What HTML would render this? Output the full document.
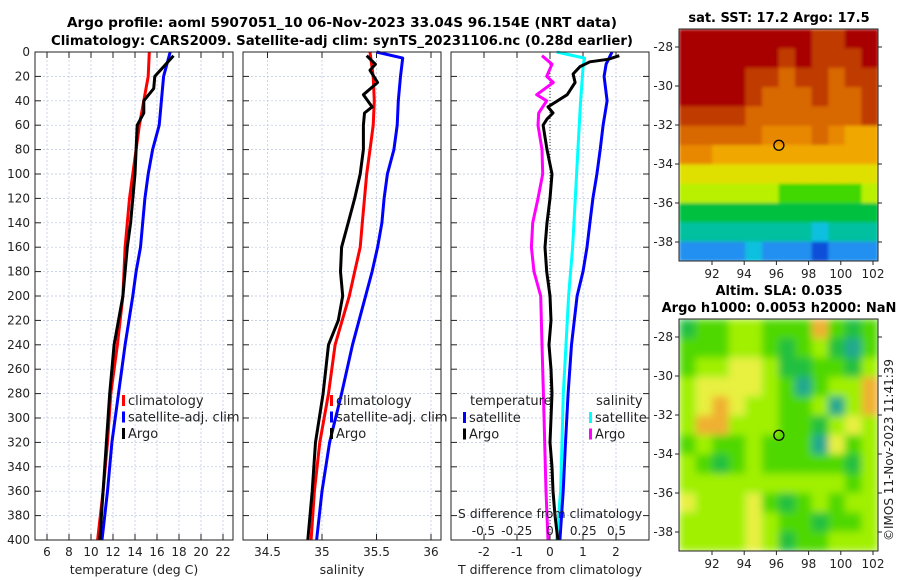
<!DOCTYPE html>
<html><head><meta charset="utf-8"><style>
body{margin:0;background:#fff;}
svg{display:block;font-family:"DejaVu Sans","Liberation Sans",sans-serif;}
</style></head><body>
<svg id="c" width="900" height="580" xmlns="http://www.w3.org/2000/svg">
<defs>
<filter id="blur" x="0" y="0" width="1" height="1"><feGaussianBlur stdDeviation="4"/></filter>
<filter id="blur2" x="0" y="0" width="1" height="1"><feGaussianBlur stdDeviation="1.5"/></filter>
<clipPath id="clipA"><rect x="679" y="29" width="199" height="232"/></clipPath>
<clipPath id="clipB"><rect x="679" y="319" width="199" height="232"/></clipPath>
</defs>
<text x="342" y="27" text-anchor="middle" font-weight="bold" font-size="13.5" textLength="550" lengthAdjust="spacingAndGlyphs">Argo profile: aoml 5907051_10 06-Nov-2023 33.04S 96.154E (NRT data)</text>
<text x="342" y="45" text-anchor="middle" font-weight="bold" font-size="13.5" textLength="582" lengthAdjust="spacingAndGlyphs">Climatology: CARS2009. Satellite-adj clim: synTS_20231106.nc (0.28d earlier)</text>
<text x="779" y="22" text-anchor="middle" font-weight="bold" font-size="13">sat. SST: 17.2 Argo: 17.5</text>
<text x="779" y="295" text-anchor="middle" font-weight="bold" font-size="13">Altim. SLA: 0.035</text>
<text x="779" y="312" text-anchor="middle" font-weight="bold" font-size="13">Argo h1000: 0.0053 h2000: NaN</text>
<text transform="translate(893,541) rotate(-90)" font-size="12" fill="#222">©IMOS 11-Nov-2023 11:41:39</text>
</svg>
<script>
const depths=[0,20,40,60,80,100,120,140,160,180,200,240,280,320,360,400];
const climT=[15.3,15.2,14.8,14.4,14.1,13.8,13.5,13.3,13.1,13.0,12.9,12.4,11.8,11.5,11.1,10.6];
const satT=[17.2,16.6,16.4,16.2,15.6,15.2,14.9,14.7,14.5,14.1,13.8,13.1,12.5,11.9,11.5,11.0];
const argoTDepth=[3,10,20,30,40,50,60,100,140,160,200,220,240,280,320,360,400];
const argoT=[17.5,16.8,15.8,15.7,14.8,14.8,14.2,14.0,13.6,13.3,12.9,12.5,12.1,11.7,11.4,11.1,10.8];
const climS=[35.44,35.47,35.48,35.47,35.44,35.41,35.39,35.37,35.35,35.30,35.25,35.12,35.06,34.98,34.93,34.90];
const satSDepth=[0,5,20,40,60,80,100,120,140,160,180,200,240,280,320,360,400];
const satS=[35.50,35.74,35.72,35.70,35.69,35.66,35.60,35.57,35.55,35.51,35.46,35.40,35.28,35.18,35.07,35.00,34.95];
const argoSDepth=[3,10,15,25,35,45,50,60,80,100,120,140,160,180,190,200,220,240,280,320,360,400];
const argoS=[35.41,35.49,35.44,35.51,35.38,35.46,35.39,35.38,35.38,35.35,35.30,35.24,35.18,35.17,35.18,35.19,35.15,35.06,35.01,34.94,34.91,34.87];
const diffDepthA=[0,10,20,40,60,80,100,120,140,160,180,200,240,280,320,360,400];
const dTsat=[1.88,1.70,1.64,1.73,1.61,1.52,1.42,1.30,1.21,1.12,1.00,0.82,0.65,0.55,0.47,0.40,0.30];
const dSsatDepth=[0,5,10,40,80,120,160,200,240,280,320,360,400];
const dSsat=[0.05,0.26,0.25,0.23,0.21,0.19,0.17,0.14,0.12,0.10,0.09,0.08,0.05];
const dTargoDepth=[3,6,8,12,18,25,35,45,50,55,60,80,100,120,140,160,180,200,220,240,260,280,300,320,340,360,380,400];
const dTargo=[2.1,1.76,1.21,0.91,0.70,0.76,0.52,-0.06,0.09,-0.09,-0.21,-0.09,0.06,0,-0.09,-0.15,-0.10,0.0,0.03,-0.03,0.03,0.06,0.03,0,0.06,0.09,0.15,0.24];
const dSargoDepth=[3,10,20,25,35,40,50,60,80,100,120,140,160,180,200,240,280,320,360,400];
const dSargo=[-0.06,0.015,-0.025,0.025,-0.10,-0.025,-0.085,-0.09,-0.06,-0.055,-0.09,-0.13,-0.14,-0.12,-0.07,-0.06,-0.05,-0.04,-0.03,-0.015];
const depthTicks=[0,20,40,60,80,100,120,140,160,180,200,220,240,260,280,300,320,340,360,380,400];
const tTicks=[6,8,10,12,14,16,18,20,22];
const sTicks=[34.5,35,35.5,36];
const dTTicks=[-2,-1,0,1,2];
const dSTicks=[-0.5,-0.25,0,0.25,0.5];
const dSTickLabels=["-0.5","-0.25","0","0.25","0.5"];
const lonTicks=[92,94,96,98,100,102];
const latTicks=[-28,-30,-32,-34,-36,-38];
const sstGrid=[
[0,0,0,0,0,0,0,0,1,1,0,0],[0,0,0,0,0,0,1,0,1,1,1,0],[0,0,0,0,1,1,2,1,1,2,1,1],[0,0,0,0,1,2,2,2,1,2,2,1],
[1,1,1,1,2,2,2,2,2,2,2,1],[2,2,2,2,2,3,3,3,2,3,4,4],[3,3,4,4,4,4,4,4,4,4,4,4],[5,5,5,5,5,5,5,5,5,5,5,5],
[6,6,6,6,6,6,7,7,7,7,7,6],[8,8,8,8,8,8,8,8,8,8,8,8],[9,9,9,9,9,9,9,9,10,9,9,9],[11,11,11,11,10,11,11,11,12,11,11,11]];
const slaGrid=[
[1,2,2,3,3,2,2,2,5,2,1,2],[2,2,2,3,3,2,1,2,3,1,0,2],[2,3,3,4,4,3,1,1,2,2,1,3],[3,4,4,4,4,3,2,0,2,3,3,5],
[3,4,5,4,3,3,2,2,3,0,3,5],[3,5,5,3,3,3,2,2,1,3,4,3],[2,3,2,2,3,2,2,2,0,4,2,3],[3,2,1,2,3,2,2,2,2,2,1,3],
[3,3,3,3,3,3,3,3,3,3,2,3],[4,3,3,3,4,2,1,2,3,2,3,3],[3,3,3,3,4,3,2,2,1,2,2,3],[3,3,3,3,4,3,1,2,2,3,3,3]];
const argoLon=96.154, argoLat=-33.04;

const NS="http://www.w3.org/2000/svg";
const svg=document.getElementById('c');
function mk(tag,attrs,parent){const e=document.createElementNS(NS,tag);for(const k in attrs)e.setAttribute(k,attrs[k]);(parent||svg).appendChild(e);return e;}
const Y0=52,Y1=540;
const yD=d=>Y0+d*(Y1-Y0)/400;
const panels=[
 {x0:35,x1:233,f:v=>47+(v-6)*11,ticks:tTicks,labels:tTicks.map(String),lab:"temperature (deg C)",name:"temperature"},
 {x0:243,x1:441,f:v=>322+(v-35)*109,ticks:sTicks,labels:sTicks.map(String),lab:"salinity",name:"salinity"},
 {x0:451,x1:649,f:v=>550+v*33,ticks:dTTicks,labels:dTTicks.map(String),lab:"T difference from climatology",name:"difference"}];
panels.forEach((p,pi)=>{
 const g=mk('g',{});
 
 
 depthTicks.forEach(d=>{const y=yD(d);
  mk('line',{x1:p.x0,x2:p.x1,y1:y,y2:y,stroke:'#b8c4e0','stroke-width':0.7,'stroke-dasharray':'2,2'},g);
  mk('line',{x1:p.x0,x2:p.x0+6,y1:y,y2:y,stroke:'#222'},g);
  mk('line',{x1:p.x1-6,x2:p.x1,y1:y,y2:y,stroke:'#222'},g);
  if(pi==0){const t=mk('text',{x:30,y:y+4,'text-anchor':'end','font-size':12,fill:'#222'},g);t.textContent=d;}
 });
 p.ticks.forEach((v,i)=>{const x=p.f(v);
  mk('line',{x1:x,x2:x,y1:Y0,y2:Y1,stroke:'#b8c4e0','stroke-width':0.7,'stroke-dasharray':'2,2'},g);
  mk('line',{x1:x,x2:x,y1:Y1-6,y2:Y1,stroke:'#222'},g);
  mk('line',{x1:x,x2:x,y1:Y0,y2:Y0+6,stroke:'#222'},g);
  const t=mk('text',{x:x,y:556,'text-anchor':'middle','font-size':12,fill:'#222'},g);t.textContent=p.labels[i];
 });
 const xl=mk('text',{x:(p.x0+p.x1)/2,y:574,'text-anchor':'middle','font-size':12.5,fill:'#222'},g);xl.textContent=p.lab;
 p.g=g;
});
function line(g,xs,ds,f,color,name,w){
 const pts=xs.map((v,i)=>f(v).toFixed(1)+','+yD(ds[i]).toFixed(1)).join(' ');
 const e=mk('polyline',{points:pts,fill:'none',stroke:color,'stroke-width':w||3,'stroke-linejoin':'round'},g);
 
 
}
const P=panels;
line(P[0].g,climT,depths,P[0].f,'#f00','clim-temperature-line');
line(P[0].g,satT,depths,P[0].f,'#00f','sat-temperature-line');
line(P[0].g,argoT,argoTDepth,P[0].f,'#000','argo-temperature-line');
line(P[1].g,climS,depths,P[1].f,'#f00','clim-salinity-line');
line(P[1].g,satS,satSDepth,P[1].f,'#00f','sat-salinity-line');
line(P[1].g,argoS,argoSDepth,P[1].f,'#000','argo-salinity-line');
const fS=v=>550+v*133;
mk('line',{x1:550,x2:550,y1:Y0,y2:Y1,stroke:'#333','stroke-dasharray':'1,2','stroke-width':1},P[2].g);
line(P[2].g,dSargo,dSargoDepth,fS,'#f0f','argo-salinity-diff-line');
line(P[2].g,dSsat,dSsatDepth,fS,'#0ff','sat-salinity-diff-line');
line(P[2].g,dTsat,diffDepthA,P[2].f,'#00f','sat-temperature-diff-line');
line(P[2].g,dTargo,dTargoDepth,P[2].f,'#000','argo-temperature-diff-line');
{const t=mk('text',{x:550,y:518,'text-anchor':'middle','font-size':12.5,fill:'#222'},P[2].g);t.textContent="S difference from climatology";
 
 
 dSTicks.forEach((v,i)=>{const t=mk('text',{x:fS(v),y:535,'text-anchor':'middle','font-size':12,fill:'#222'},P[2].g);t.textContent=dSTickLabels[i];});}
panels.forEach(p=>mk('rect',{x:p.x0,y:Y0,width:p.x1-p.x0,height:Y1-Y0,fill:'none',stroke:'#222','stroke-width':1},p.g));
function legend(g,x,y,items){items.forEach((it,i)=>{
 const yy=y+i*16.5;
 mk('rect',{x:x,y:yy-10,width:3,height:11,fill:it[1]},g);
 const t=mk('text',{x:x+6,y:yy,'font-size':13,fill:'#222'},g);t.textContent=it[0];
 
 
});}
legend(P[0].g,122,405,[["climatology","#f00"],["satellite-adj. clim","#00f"],["Argo","#000"]]);
legend(P[1].g,330,405,[["climatology","#f00"],["satellite-adj. clim","#00f"],["Argo","#000"]]);
{const t=mk('text',{x:470,y:405,'font-size':13,fill:'#222'},P[2].g);t.textContent="temperature";
 const t2=mk('text',{x:596,y:405,'font-size':13,fill:'#222'},P[2].g);t2.textContent="salinity";}
legend(P[2].g,463,422,[["satellite","#00f"],["Argo","#000"]]);
legend(P[2].g,589,422,[["satellite","#0ff"],["Argo","#f0f"]]);
const sstColors=['#a80000','#c03a00','#d86800','#e88800','#f0a800','#e0e000','#b8f000','#40d800','#00c040','#00c0a0','#10c0e0','#2090f0','#1050d8'];
const slaColors=['#20a890','#20c040','#50d800','#a0f000','#e8f040','#f0b030'];
function map(top,bot,grid,colors,name,filt,clip){
 const g=mk('g',{});
 
 
 const x0=679,x1=878;
 const lonX=l=>712+(l-92)*16.1;
 const latY0=top+(47-29);
 const latY=la=>latY0+(-28-la)*19.5;
 const rows=grid.length,cols=grid[0].length;
 const cw=(x1-x0)/cols,rh=(bot-top)/rows;
 const cg=mk('g',{'clip-path':'url(#'+clip+')'},g);
 const ig=mk('g',{filter:'url(#'+filt+')'},cg);
 mk('rect',{x:x0,y:top,width:x1-x0,height:bot-top,fill:colors[grid[6][6]]},ig);
 grid.forEach((r,i)=>r.forEach((v,j)=>{mk('rect',{x:x0+j*cw,y:top+i*rh,width:cw+0.6,height:rh+0.6,fill:colors[v]},ig);}));
 mk('circle',{cx:lonX(argoLon),cy:latY(argoLat),r:5,fill:'none',stroke:'#000','stroke-width':1.3},g);
 mk('rect',{x:x0,y:top,width:x1-x0,height:bot-top,fill:'none',stroke:'#222'},g);
 lonTicks.forEach(l=>{const x=lonX(l);mk('line',{x1:x,x2:x,y1:bot,y2:bot+4,stroke:'#222'},g);
  const t=mk('text',{x:x,y:bot+17,'text-anchor':'middle','font-size':12,fill:'#222'},g);t.textContent=l;});
 latTicks.forEach(la=>{const y=latY(la);mk('line',{x1:x0-4,x2:x0,y1:y,y2:y,stroke:'#222'},g);mk('line',{x1:x1,x2:x1+4,y1:y,y2:y,stroke:'#222'},g);
  const t=mk('text',{x:673,y:y+4,'text-anchor':'end','font-size':12,fill:'#222'},g);t.textContent=la;});
}
map(29,261,sstGrid,sstColors,'sst-map','blur2','clipA');
map(319,551,slaGrid,slaColors,'sla-map','blur','clipB');
</script>
</body></html>
